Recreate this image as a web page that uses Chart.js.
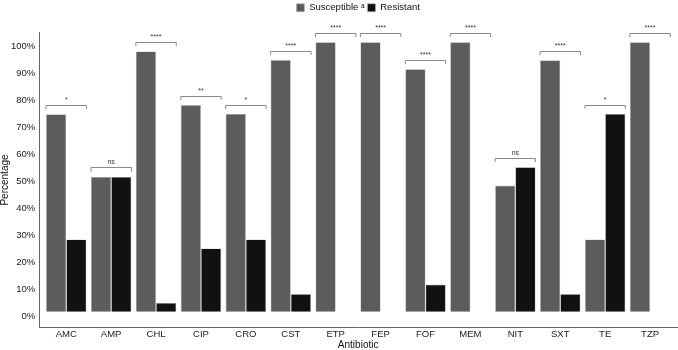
<!DOCTYPE html>
<html>
<head>
<meta charset="utf-8">
<script src="https://cdn.jsdelivr.net/npm/chart.js@4/dist/chart.umd.min.js"></script>
<style>
  html, body { margin: 0; padding: 0; background: #fff; }
  #wrap { width: 678px; height: 350px; }
</style>
</head>
<body>
<div id="wrap"><canvas id="chart" width="678" height="350"></canvas></div>
<script>
  'use strict';

  // values (bars sit on a small base offset)
  var antibiotics = ['AMC', 'AMP', 'CHL', 'CIP', 'CRO', 'CST', 'ETP', 'FEP', 'FOF', 'MEM', 'NIT', 'SXT', 'TE', 'TZP'];
  var susceptible = [74.7, 51.5, 98.0, 78.1, 74.8, 94.8, 101.4, 101.4, 91.4, 101.4, 48.3, 94.7, 28.3, 101.4];
  var resistant = [28.3, 51.5, 4.8, 25.0, 28.3, 8.1, 1.5, 1.5, 11.6, 1.5, 55.1, 8.1, 74.8, 1.5];
  var signif = ['*', 'ns', '****', '**', '*', '****', '****', '****', '****', '****', 'ns', '****', '*', '****'];
  var yTicks = [0, 10, 20, 30, 40, 50, 60, 70, 80, 90, 100];
  var barBase = 1.5;

  var fontFamily = '"Liberation Sans", Arial, Helvetica, sans-serif';

  // significance brackets over each pair of bars
  var bracketPlugin = {
    id: 'brackets',
    afterDatasetsDraw: function (chart) {
      var ctx = chart.ctx;
      var y = chart.scales.y;
      var m0 = chart.getDatasetMeta(0);
      var m1 = chart.getDatasetMeta(1);
      ctx.save();
      for (var i = 0; i < antibiotics.length; i++) {
        var b0 = m0.data[i];
        var b1 = m1.data[i];
        var left = b0.x - b0.width / 2;
        var right = b1.x + b1.width / 2;
        var top = Math.max(susceptible[i], resistant[i]);
        var yLine = Math.round(y.getPixelForValue(top + 3.5)) + 0.5;
        var yTick = y.getPixelForValue(top + 1.9);
        ctx.strokeStyle = '#8a8a8a';
        ctx.lineWidth = 1;
        ctx.beginPath();
        ctx.moveTo(left, yTick);
        ctx.lineTo(left, yLine);
        ctx.lineTo(right, yLine);
        ctx.lineTo(right, yTick);
        ctx.stroke();
        ctx.fillStyle = '#333';
        ctx.font = '7px ' + fontFamily;
        ctx.textAlign = 'center';
        ctx.textBaseline = 'bottom';
        ctx.fillText(signif[i], (left + right) / 2, yLine - 2);
      }
      ctx.restore();
    }
  };

  // legend: a bit taller, and centred over the plot panel
  var legendPlugin = {
    id: 'legendTweak',
    beforeInit: function (chart) {
      var fit = chart.legend.fit;
      chart.legend.fit = function () {
        fit.bind(chart.legend)();
        this.height += 10;
      };
    },
    afterLayout: function (chart) {
      var lg = chart.legend;
      lg.left = chart.chartArea.left;
      lg.right = chart.chartArea.right;
      lg.width = lg.right - lg.left;
    }
  };

  var ctx = document.getElementById('chart').getContext('2d');
  var chart = new Chart(ctx, {
    type: 'bar',
    data: {
      datasets: [{
        label: 'Susceptible \u1d43',
        data: susceptible.map(function (v, i) { return { x: i, y: v }; }),
        base: barBase,
        backgroundColor: '#5c5c5c',
        borderColor: '#b5b5b5',
        borderWidth: 0.6
      }, {
        label: 'Resistant',
        data: resistant.map(function (v, i) { return { x: i, y: v }; }),
        base: barBase,
        backgroundColor: '#111111',
        borderColor: '#b5b5b5',
        borderWidth: 0.6
      }]
    },
    options: {
      responsive: false,
      animation: false,
      layout: { padding: { top: 0, right: 1, bottom: 0, left: 0 } },
      datasets: {
        bar: { categoryPercentage: 0.9, barPercentage: 1.0, grouped: true }
      },
      plugins: {
        legend: {
          position: 'top',
          labels: {
            boxWidth: 8,
            boxHeight: 8,
            padding: 3,
            color: '#111',
            font: { family: fontFamily, size: 9.5 }
          }
        },
        tooltip: { enabled: false }
      },
      scales: {
        x: {
          type: 'linear',
          min: -0.6,
          max: 13.6,
          offset: false,
          afterBuildTicks: function (axis) {
            axis.ticks = antibiotics.map(function (n, i) { return { value: i }; });
          },
          ticks: {
            autoSkip: false,
            maxRotation: 0,
            padding: 0,
            color: '#1a1a1a',
            font: { family: fontFamily, size: 9.5, lineHeight: 1 },
            callback: function (v) { return antibiotics[v]; }
          },
          grid: { display: false, drawTicks: true, tickLength: 2, color: '#777' },
          border: { display: true, color: '#666', width: 1 },
          title: {
            display: true,
            text: 'Antibiotic',
            color: '#111',
            font: { family: fontFamily, size: 10, lineHeight: 1 },
            padding: { top: 1, bottom: 0 }
          }
        },
        y: {
          min: -4.3,
          max: 105,
          afterBuildTicks: function (axis) {
            axis.ticks = yTicks.map(function (v) { return { value: v }; });
          },
          ticks: {
            padding: 1,
            color: '#1a1a1a',
            font: { family: fontFamily, size: 9.5 },
            callback: function (v) { return v + '%'; }
          },
          grid: { display: false, drawTicks: true, tickLength: 3, color: '#777' },
          border: { display: true, color: '#666', width: 1 },
          title: {
            display: true,
            text: 'Percentage',
            color: '#111',
            font: { family: fontFamily, size: 10, lineHeight: 1 },
            padding: { top: 0, bottom: 0 }
          }
        }
      }
    },
    plugins: [bracketPlugin, legendPlugin]
  });
</script>
</body>
</html>
